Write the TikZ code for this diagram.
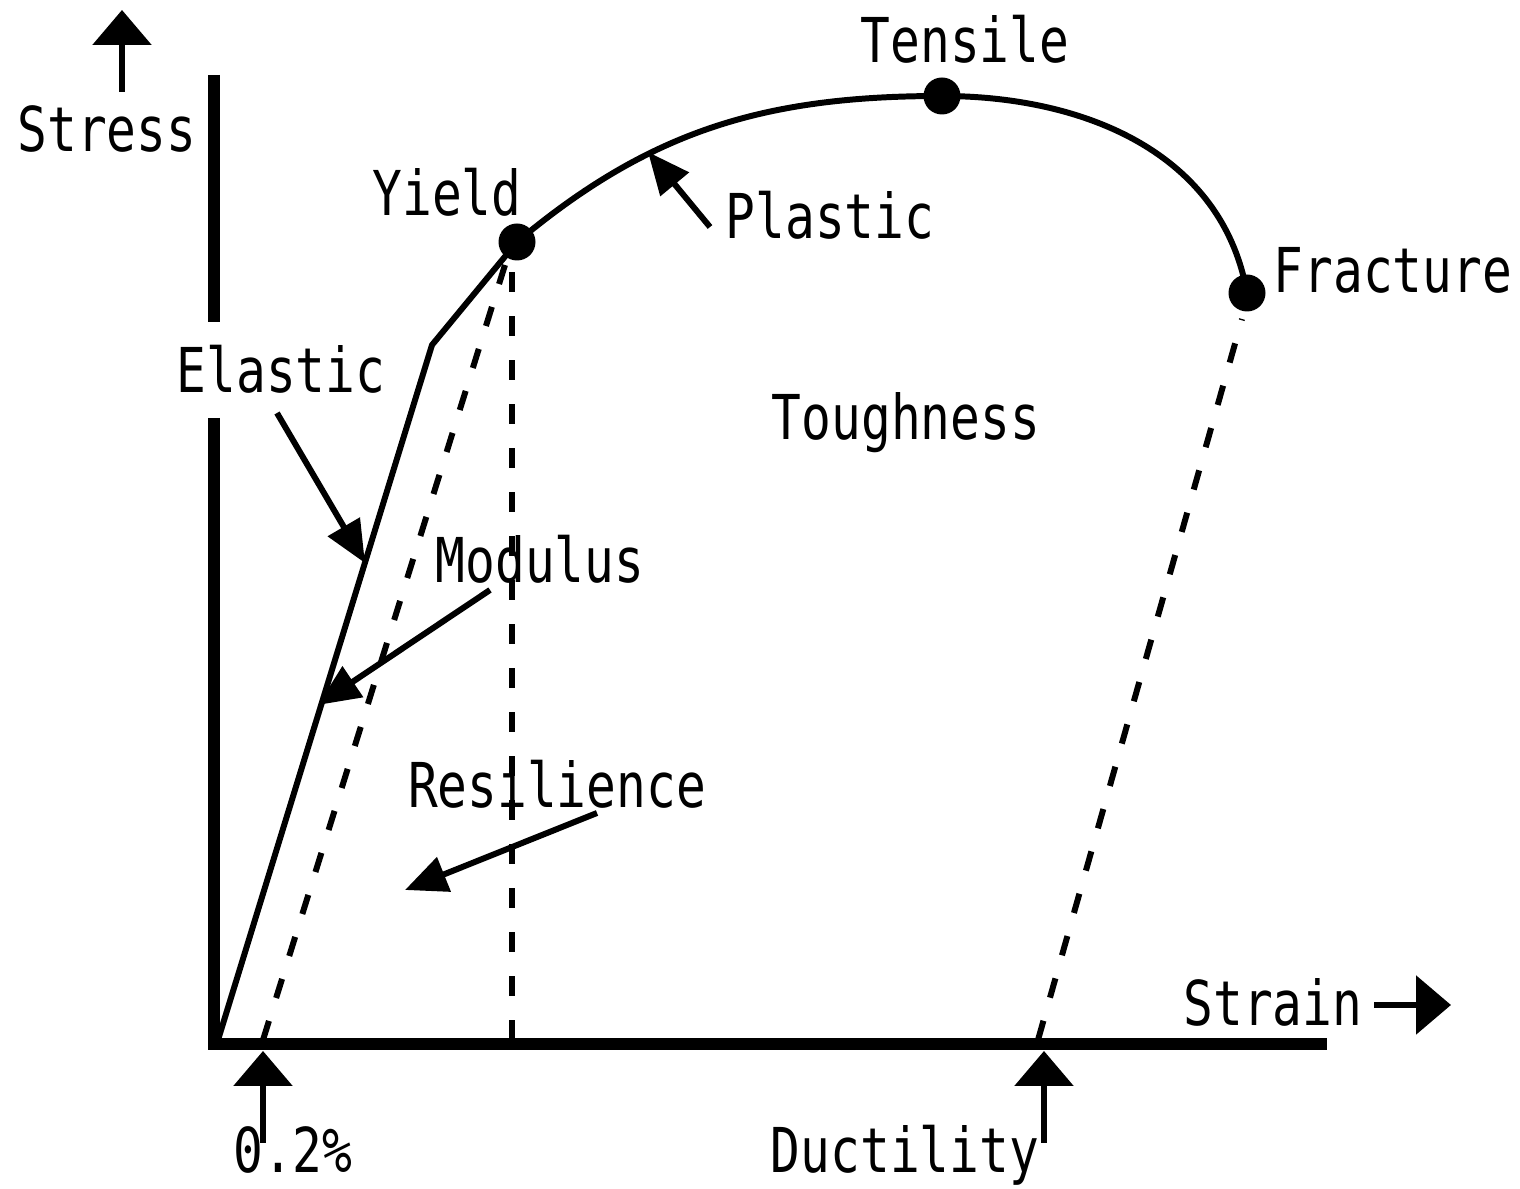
\documentclass[tikz,border=0pt]{standalone}
\usepackage{fontspec}
\setmainfont{DejaVu Sans Mono}[FakeStretch=0.8]
\usetikzlibrary{arrows.meta, positioning}

\begin{document}
\begin{tikzpicture}[
    lbl/.style={anchor=base, inner sep=0pt, font=\fontsize{17.6}{20}\selectfont},
    axisline/.style={line width=3.4pt},
    thinline/.style={line width=1.7pt},
    dashline/.style={line width=1.7pt, dash pattern=on 2mm off 2.4mm},
    markdot/.style={circle, fill=black, inner sep=0pt, minimum size=0.37cm},
    bigtip/.style={line width=1.7pt, -{Triangle[length=0.35cm, width=0.58cm]}},
    ptr/.style={line width=1.7pt, -{Triangle[length=0.42cm, width=0.36cm]}}
]
    \useasboundingbox (0,0) rectangle (15.2,11.89);

    % axes
    \draw[axisline] (2.14,11.14) -- (2.14,8.67);
    \draw[axisline, line join=miter] (2.14,7.71) |- (13.27,1.45);

    % points on the curve
    \coordinate (origin) at (2.18,1.49);
    \coordinate (knee) at (4.32,8.44);
    \coordinate (yieldc) at (5.17,9.47);
    \coordinate (tensilec) at (9.42,10.93);
    \coordinate (fracturec) at (12.47,8.96);

    % stress-strain curve
    \draw[thinline] (origin) -- (knee) -- (yieldc) to[out=40, in=180] (tensilec) to[out=0, in=100] (fracturec);

    % dashed guides
    \draw[dashline] (2.63,1.49) -- (5.05,9.24);
    \draw[dashline] (5.12,1.49) -- (5.12,9.19);
    \draw[dashline] (10.38,1.49) -- (12.42,8.70);

    \node[markdot] (yieldpt) at (yieldc) {};
    \node[markdot] (tensilept) at (tensilec) {};
    \node[markdot] (fracturept) at (fracturec) {};

    % labels
    \node[lbl] (stress) at (1.07,10.37) {Stress};
    \node[lbl] (yield) at (4.47,9.73) {Yield};
    \node[lbl] (tensile) at (9.65,11.26) {Tensile};
    \node[lbl] (plastic) at (8.30,9.50) {Plastic};
    \node[lbl] (fracture) at (13.93,8.96) {Fracture};
    \node[lbl] (elastic) at (2.81,7.96) {Elastic};
    \node[lbl] (modulus) at (5.40,6.06) {Modulus};
    \node[lbl] (toughness) at (9.06,7.49) {Toughness};
    \node[lbl] (resilience) at (5.57,3.81) {Resilience};
    \node[lbl] (strain) at (12.73,1.63) {Strain};
    \node[lbl] (offset) at (2.93,0.16) {0.2\%};
    \node[lbl] (ductility) at (9.05,0.16) {Ductility};

    % axis arrows
    \coordinate (stressend) at (1.22,11.79);
    \coordinate (strainend) at (14.51,1.84);
    \coordinate (offsetend) at (2.63,1.38);
    \coordinate (ductilityend) at (10.44,1.38);
    \draw[bigtip] (1.22,10.97) -- (stressend);
    \draw[bigtip] (13.74,1.84) -- (strainend);
    \draw[bigtip] (2.63,0.46) -- (offsetend);
    \draw[bigtip] (10.44,0.46) -- (ductilityend);

    % pointers
    \draw[ptr] (7.10,9.62) -- (6.48,10.37);
    \draw[ptr] (2.77,7.76) -- (3.65,6.26);
    \draw[ptr] (4.90,5.99) -- (3.18,4.84);
    \draw[ptr] (5.97,3.76) -- (4.05,2.99);
\end{tikzpicture}
\end{document}
